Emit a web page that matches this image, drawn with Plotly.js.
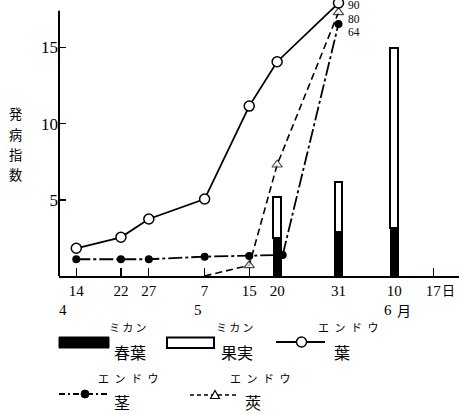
<!DOCTYPE html>
<html><head><meta charset="utf-8">
<script src="https://cdn.plot.ly/plotly-3.0.1.min.js"></script>
<style>body{margin:0;background:#fff}#c{width:459px;height:415px}</style>
</head><body><div id="c"></div>
<script>
// day-of-year positions for dates (Apr 14 = 104 ...)
const tickDays   = [104, 112, 117, 127, 135, 140, 151, 161, 168];
const tickLabels = ['14', '22', '27', '7', '15', '20', '31', '10', '17'];

// ミカン bars (stacked): 春葉 (black) and 果実 (white on top)
const barDays   = [140, 151, 161];
const mikanLeaf = [2.47, 2.87, 3.13];
const mikanFruit= [2.69, 3.28, 11.84];

// エンドウ 葉 (open circles)
const peaLeafDays = [104, 112, 117, 127, 135, 140, 151];
const peaLeaf     = [1.82, 2.54, 3.74, 5.05, 11.15, 14.06, 17.91];

// エンドウ 茎 (filled circles)
const peaStemDays = [104, 112, 117, 127, 135, 141, 151];
const peaStem     = [1.10, 1.10, 1.10, 1.27, 1.31, 1.38, 16.54];

// エンドウ 莢 (triangles)
const peaPodDays = [127, 135, 140, 151];
const peaPod     = [0, 0.7, 7.3, 17.3];

// off-scale values written at top
const topLabels = ['90', '80', '64'];
const yTitleChars = ['発', '病', '指', '数'];

const L = 59, T = 0, PW = 400, PH = 276;
const px = x => (x - L) / PW;
const py = y => (T + PH - y) / PH;

const serif = 'Liberation Serif, DejaVu Serif, serif';
const cjk = 'Noto Sans CJK JP, sans-serif';

const traces = [
  {type:'bar', x:barDays, y:mikanLeaf, width:1.4, marker:{color:'#000', line:{color:'#000', width:1}}, hoverinfo:'skip'},
  {type:'bar', x:barDays, y:mikanFruit, width:1.4, marker:{color:'#fff', line:{color:'#000', width:2}}, hoverinfo:'skip'},
  {type:'scatter', mode:'lines+markers', x:peaStemDays, y:peaStem, cliponaxis:false,
   line:{color:'#000', width:1.8, dash:'14px,3px,3px,3px'},
   marker:{symbol:'circle', size:8, color:'#000'}},
  {type:'scatter', mode:'lines+markers', x:peaPodDays, y:peaPod, cliponaxis:false,
   line:{color:'#000', width:1.6, dash:'7px,4px'},
   marker:{symbol:'triangle-up', size:peaPod.map(v => v === 0 ? 0 : 9), color:'#fff', line:{color:'#000', width:1.2}}},
  {type:'scatter', mode:'lines+markers', x:peaLeafDays, y:peaLeaf, cliponaxis:false,
   line:{color:'#000', width:1.8},
   marker:{symbol:'circle', size:10, color:'#fff', line:{color:'#000', width:1.5}}}
];

function ann(x, y, text, size, font, anchor) {
  return {xref:'paper', yref:'paper', x:px(x), y:py(y), text:text, showarrow:false, borderpad:0,
          xanchor:anchor || 'center', yanchor:'middle', font:{family:font, size:size, color:'#000'}};
}

const es = '\u2002', ts = '\u2009';
const annotations = [
  // y title (vertical, one character per line)
  ...yTitleChars.map((c, i) => ann(15.8, 114 + i * 20, c, 13.2, cjk)),
  // top value labels (off-scale values)
  ann(347, 5.5, topLabels[0], 11.5, serif, 'left'),
  ann(347, 19, topLabels[1], 11.5, serif, 'left'),
  ann(347, 32.5, topLabels[2], 11.5, serif, 'left'),
  // 日 after 17
  ann(448, 289, '日', 13, cjk),
  // months
  ann(63, 310, '4', 15, serif), ann(198, 310, '5', 15, serif),
  ann(388, 310, '6', 15, serif), ann(404, 310, '月', 14, cjk),
  // legend texts
  ann(127.5, 327, 'ミ'+ts+'カ'+ts+'ン', 11, cjk), ann(130, 352, '春葉', 16, cjk),
  ann(234.5, 327, 'ミ'+ts+'カ'+ts+'ン', 11, cjk), ann(237, 352, '果実', 16, cjk),
  ann(348.5, 327, 'エ'+es+'ン'+es+'ド'+es+'ウ', 11, cjk), ann(341.5, 352, '葉', 16, cjk),
  ann(128.5, 378, 'エ'+es+'ン'+es+'ド'+es+'ウ', 11, cjk), ann(122, 402, '茎', 16, cjk),
  ann(260, 378, 'エ'+es+'ン'+es+'ド'+es+'ウ', 11, cjk), ann(252.5, 402, '莢', 16, cjk)
];

const blk = {color:'#000', width:2};
const shapes = [
  // y axis line
  {type:'line', xref:'paper', yref:'y', x0:0, x1:0, y0:0, y1:17.4, line:{color:'#000', width:2}},
  // legend: black rect
  {type:'rect', xref:'paper', yref:'paper', x0:px(59), x1:px(109), y0:py(348), y1:py(337), fillcolor:'#000', line:{color:'#000', width:1}},
  // white rect
  {type:'rect', xref:'paper', yref:'paper', x0:px(167), x1:px(214), y0:py(348), y1:py(337.5), fillcolor:'#fff', line:blk},
  // open circle line
  {type:'line', xref:'paper', yref:'paper', x0:px(276), x1:px(325), y0:py(342), y1:py(342), line:blk},
  {type:'circle', xref:'paper', yref:'paper', x0:px(296.5), x1:px(306.5), y0:py(347), y1:py(337), fillcolor:'#fff', line:{color:'#000', width:1.5}},
  // dash-dot with filled circle
  {type:'line', xref:'paper', yref:'paper', x0:px(59), x1:px(108), y0:py(394), y1:py(394), line:{color:'#000', width:1.8, dash:'6px,3px,2px,3px'}},
  {type:'circle', xref:'paper', yref:'paper', x0:px(81), x1:px(89), y0:py(398), y1:py(390), fillcolor:'#000', line:{color:'#000', width:1}},
  // dashed with triangle
  {type:'line', xref:'paper', yref:'paper', x0:px(190), x1:px(238), y0:py(395), y1:py(395), line:{color:'#000', width:1.5, dash:'4px,3px'}},
  {type:'path', xref:'paper', yref:'paper', path:'M '+px(210.5)+' '+py(398.5)+' L '+px(219.5)+' '+py(398.5)+' L '+px(215)+' '+py(390.5)+' Z', fillcolor:'#fff', line:{color:'#000', width:1.2}}
];

const layout = {
  width:459, height:415, margin:{l:L, r:0, t:T, b:415-PH},
  paper_bgcolor:'#fff', plot_bgcolor:'#fff', showlegend:false, barmode:'stack',
  xaxis:{range:[100.9, 172.6], showgrid:false, zeroline:false, showline:true, linecolor:'#000', linewidth:2,
         ticks:'inside', ticklen:8, tickwidth:1.2, tickcolor:'#000',
         tickvals:tickDays, ticktext:tickLabels, tickfont:{family:serif, size:15, color:'#000'}},
  yaxis:{range:[0, 18.11], showgrid:false, zeroline:false, showline:false,
         ticks:'inside', ticklen:7, tickwidth:1.5, tickcolor:'#000',
         tickvals:[5, 10, 15], ticktext:['5', '10', '15'], tickfont:{family:serif, size:17, color:'#000'}},
  annotations:annotations, shapes:shapes
};

Plotly.newPlot('c', traces, layout, {staticPlot:true, displayModeBar:false});
</script></body></html>
